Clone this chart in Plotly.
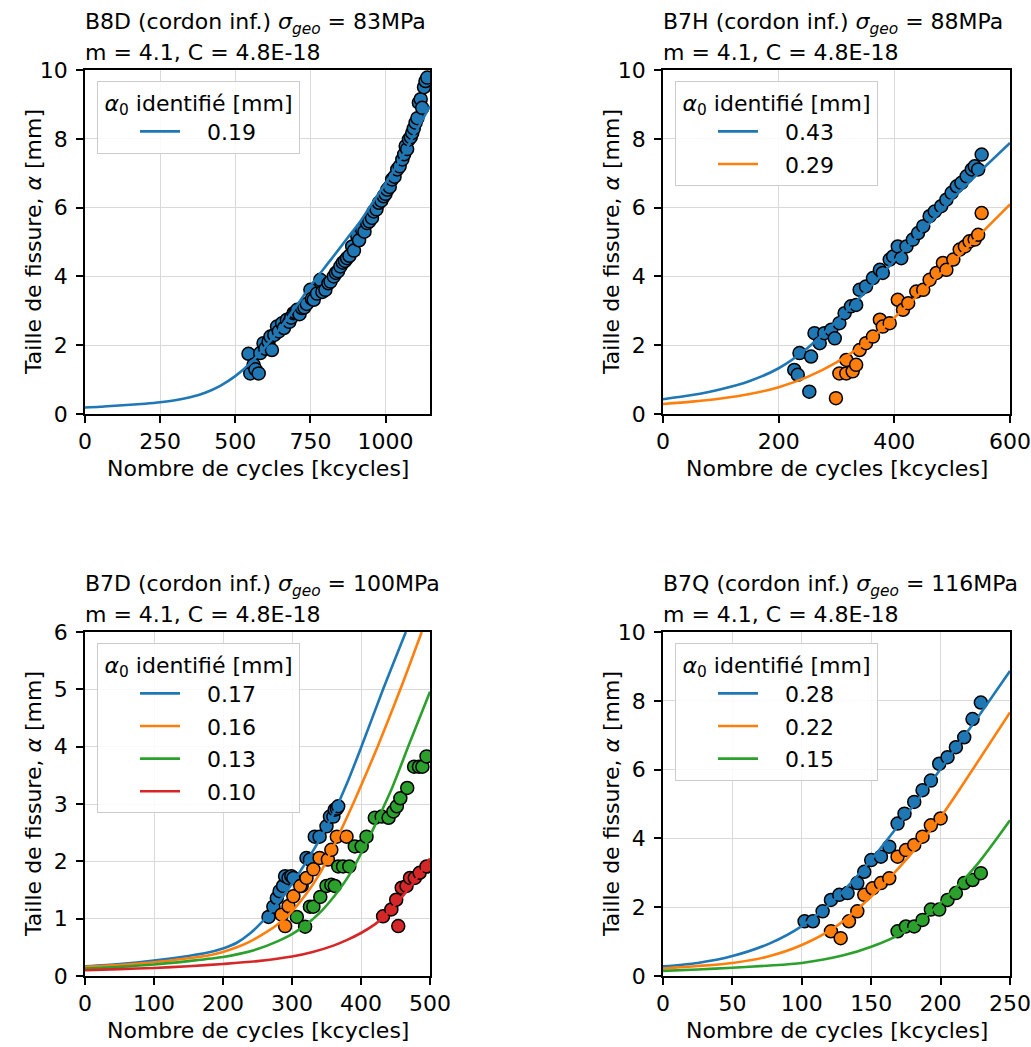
import plotly.graph_objects as go

W, H = 1031, 1047
BLUE, ORANGE, GREEN, RED = "#1f77b4", "#ff7f0e", "#2ca02c", "#d62728"
FONT = "DejaVu Sans"

# ---------------- Data ----------------
# Panel 1 : B8D, 83 MPa
p1_title = "B8D (cordon inf.) <i>σ<sub>geo</sub></i> = 83MPa"
p1_a0 = ["0.19"]
p1_curve_N = [0, 50, 100, 150, 200, 250, 300, 350, 400, 450, 500, 550, 600, 650, 700, 761, 815, 872, 920, 961, 1000, 1050, 1094, 1148]
p1_curve_a = [0.19, 0.21, 0.24, 0.27, 0.30, 0.34, 0.40, 0.49, 0.62, 0.82, 1.10, 1.48, 1.95, 2.50, 3.10, 3.85, 4.45, 5.10, 5.65, 6.20, 6.70, 7.40, 8.10, 8.95]
p1_N = [544, 550, 561, 567, 578, 583, 594, 600, 611, 617, 622, 630, 639, 645, 656, 662, 672, 680, 686, 694,
        700, 706, 714, 722, 730, 738, 750, 755, 761, 772, 783, 790, 800, 810, 817, 828, 835, 842, 850, 858,
        865, 872, 880, 889, 895, 906, 912, 922, 930, 939, 946, 955, 961, 970, 978, 986, 994, 1000, 1006, 1014,
        1022, 1030, 1039, 1047, 1056, 1062, 1067, 1072, 1078, 1084, 1089, 1094, 1100, 1106, 1111, 1117, 1122, 1128, 1133, 1139]
p1_a = [1.75, 1.18, 1.43, 1.30, 1.18, 1.77, 2.06, 1.90, 2.10, 2.25, 1.86, 2.30, 2.54, 2.40, 2.64, 2.50, 2.74, 2.68, 2.80, 2.93,
        2.95, 3.03, 2.90, 3.08, 3.10, 3.20, 3.61, 3.35, 3.32, 3.50, 3.90, 3.55, 3.61, 3.80, 3.85, 4.00, 4.10, 4.15, 4.29, 4.40,
        4.45, 4.53, 4.60, 4.87, 4.75, 5.17, 5.05, 5.36, 5.30, 5.55, 5.60, 5.70, 5.89, 5.95, 6.14, 6.20, 6.33, 6.40, 6.52, 6.60,
        6.82, 6.90, 7.11, 7.20, 7.40, 7.55, 7.79, 7.70, 7.98, 8.05, 8.17, 8.30, 8.47, 8.60, 9.05, 9.15, 8.90, 9.50, 9.68, 9.78]

# Panel 2 : B7H, 88 MPa
p2_title = "B7H (cordon inf.) <i>σ<sub>geo</sub></i> = 88MPa"
p2_a0 = ["0.43", "0.29"]
p2_curve_N = [0, 50, 100, 150, 200, 250, 300, 350, 400, 450, 500, 550, 600]
p2_curve_a_1 = [0.43, 0.55, 0.72, 0.96, 1.33, 1.92, 2.70, 3.55, 4.45, 5.35, 6.25, 7.08, 7.88]
p2_curve_a_2 = [0.29, 0.36, 0.45, 0.58, 0.78, 1.08, 1.50, 2.07, 2.80, 3.60, 4.40, 5.25, 6.09]
p2_N_1 = [227, 233, 236, 253, 256, 262, 271, 279, 291, 297, 305, 314, 325, 334, 340, 351, 363, 375, 380, 392,
          398, 406, 412, 421, 432, 441, 450, 461, 470, 481, 490, 499, 508, 516, 525, 534, 539, 545, 551]
p2_a_1 = [1.28, 1.14, 1.77, 0.65, 1.67, 2.35, 2.06, 2.35, 2.45, 2.20, 2.64, 2.93, 3.13, 3.17, 3.61, 3.71, 3.95, 4.19, 4.10, 4.49,
          4.58, 4.87, 4.53, 4.87, 5.07, 5.26, 5.46, 5.75, 5.89, 6.04, 6.23, 6.43, 6.62, 6.72, 6.91, 7.11, 7.20, 7.11, 7.54]
p2_N_2 = [299, 305, 317, 317, 328, 334, 340, 351, 363, 375, 380, 392, 406, 415, 424, 438, 450, 461, 473, 484,
          490, 502, 513, 522, 530, 539, 545, 551]
p2_a_2 = [0.46, 1.18, 1.57, 1.18, 1.24, 1.43, 1.86, 2.06, 2.25, 2.74, 2.54, 2.64, 3.32, 3.03, 3.22, 3.56, 3.61, 3.90, 4.10, 4.39,
          4.19, 4.49, 4.78, 4.87, 5.02, 5.07, 5.21, 5.84]

# Panel 3 : B7D, 100 MPa
p3_title = "B7D (cordon inf.) <i>σ<sub>geo</sub></i> = 100MPa"
p3_a0 = ["0.17", "0.16", "0.13", "0.10"]
p3_curve_N_1 = [0, 50, 100, 150, 175, 200, 220, 239, 258, 280, 300, 320, 340, 360, 380, 400, 432, 465]
p3_curve_a_1 = [0.17, 0.21, 0.27, 0.35, 0.40, 0.48, 0.58, 0.74, 0.96, 1.28, 1.61, 1.98, 2.38, 2.83, 3.37, 3.98, 5.00, 6.00]
p3_curve_N_2 = [0, 50, 100, 150, 175, 200, 220, 239, 258, 278, 297, 320, 340, 357, 374, 391, 424, 457, 488]
p3_curve_a_2 = [0.16, 0.19, 0.24, 0.31, 0.35, 0.42, 0.50, 0.60, 0.73, 0.89, 1.09, 1.42, 1.78, 2.18, 2.62, 3.07, 4.00, 5.00, 6.00]
p3_curve_N_3 = [0, 50, 100, 150, 200, 225, 250, 278, 300, 321, 340, 355, 370, 384, 405, 425, 445, 470, 500]
p3_curve_a_3 = [0.13, 0.16, 0.20, 0.26, 0.33, 0.39, 0.47, 0.60, 0.73, 0.90, 1.10, 1.30, 1.53, 1.78, 2.25, 2.75, 3.28, 4.05, 4.96]
p3_curve_N_4 = [0, 50, 100, 150, 200, 250, 300, 330, 360, 380, 400, 420, 432, 450, 471, 485, 500]
p3_curve_a_4 = [0.10, 0.12, 0.14, 0.17, 0.21, 0.26, 0.34, 0.42, 0.53, 0.63, 0.75, 0.90, 1.02, 1.25, 1.55, 1.78, 2.05]
p3_N_1 = [266, 273, 278, 282, 287, 290, 295, 299, 302, 314, 321, 326, 333, 340, 350, 355, 360, 362, 365, 367]
p3_a_1 = [1.03, 1.21, 1.36, 1.48, 1.57, 1.74, 1.71, 1.74, 1.71, 1.57, 2.06, 2.03, 2.43, 2.43, 2.61, 2.78, 2.78, 2.90, 2.92, 2.96]
p3_N_2 = [285, 290, 295, 302, 312, 321, 331, 340, 352, 357, 365, 379]
p3_a_2 = [1.07, 0.87, 1.22, 1.39, 1.57, 1.71, 1.86, 2.06, 2.03, 2.20, 2.43, 2.43]
p3_N_3 = [307, 319, 326, 331, 341, 350, 357, 362, 367, 374, 383, 391, 401, 408, 420, 430, 440, 447, 452, 457,
          467, 477, 484, 489, 495]
p3_a_3 = [1.03, 0.86, 1.21, 1.21, 1.38, 1.57, 1.59, 1.57, 1.91, 1.91, 1.91, 2.26, 2.26, 2.43, 2.76, 2.78, 2.76, 2.87, 2.96, 3.10,
          3.28, 3.65, 3.65, 3.65, 3.83]
p3_N_4 = [432, 444, 451, 454, 459, 466, 471, 478, 485, 495]
p3_a_4 = [1.04, 1.16, 1.33, 0.87, 1.54, 1.57, 1.71, 1.71, 1.80, 1.91]

# Panel 4 : B7Q, 116 MPa
p4_title = "B7Q (cordon inf.) <i>σ<sub>geo</sub></i> = 116MPa"
p4_a0 = ["0.28", "0.22", "0.15"]
p4_curve_N_1 = [0, 25, 50, 77, 100, 125, 150, 176, 200, 225, 250]
p4_curve_a_1 = [0.28, 0.38, 0.58, 0.95, 1.45, 2.28, 3.38, 4.72, 6.02, 7.42, 8.87]
p4_curve_N_2 = [0, 25, 50, 75, 100, 125, 150, 176, 200, 225, 250]
p4_curve_a_2 = [0.22, 0.29, 0.38, 0.56, 0.90, 1.45, 2.31, 3.42, 4.62, 6.12, 7.66]
p4_curve_N_3 = [0, 25, 50, 75, 100, 130, 150, 171, 185, 200, 225, 250]
p4_curve_a_3 = [0.15, 0.19, 0.24, 0.30, 0.38, 0.60, 0.85, 1.22, 1.60, 2.12, 3.18, 4.53]
p4_N_1 = [102, 108, 115, 121, 127, 133, 140, 145, 150, 157, 163, 169, 174, 181, 187, 193, 199, 205, 211, 217, 223, 229]
p4_a_1 = [1.59, 1.59, 1.88, 2.21, 2.36, 2.41, 2.70, 3.03, 3.37, 3.47, 3.76, 4.43, 4.72, 5.06, 5.40, 5.68, 6.17, 6.36, 6.65, 6.94, 7.47, 7.95]
p4_N_2 = [121, 128, 134, 140, 145, 151, 157, 163, 169, 175, 181, 187, 193, 200]
p4_a_2 = [1.30, 1.10, 1.59, 1.88, 2.36, 2.55, 2.70, 2.84, 3.47, 3.66, 3.81, 4.05, 4.38, 4.58]
p4_N_3 = [169, 175, 181, 187, 193, 199, 205, 211, 217, 223, 229]
p4_a_3 = [1.30, 1.44, 1.44, 1.63, 1.93, 1.93, 2.21, 2.41, 2.70, 2.79, 2.99]

subtitle = "m = 4.1, C = 4.8E-18"
legend_title = "\u2009<i>α</i><sub>0</sub> identifié [mm]\u2009"
xlabel = "Nombre de cycles [kcycles]"
ylabel = "Taille de fissure, <i>α</i> [mm]"

# ---------------- Layout geometry (pixels) ----------------
cols = [(85, 430), (663, 1010)]
rows = [(70, 414), (632, 976)]

panels = [
    dict(title=p1_title, a0=p1_a0, xr=[0, 1148], yr=[0, 10], xt=[0, 250, 500, 750, 1000], yt=[0, 2, 4, 6, 8, 10],
         curves=[(p1_curve_N, p1_curve_a)], pts=[(p1_N, p1_a)], colors=[BLUE]),
    dict(title=p2_title, a0=p2_a0, xr=[0, 600], yr=[0, 10], xt=[0, 200, 400, 600], yt=[0, 2, 4, 6, 8, 10],
         curves=[(p2_curve_N, p2_curve_a_1), (p2_curve_N, p2_curve_a_2)],
         pts=[(p2_N_1, p2_a_1), (p2_N_2, p2_a_2)], colors=[BLUE, ORANGE]),
    dict(title=p3_title, a0=p3_a0, xr=[0, 500], yr=[0, 6], xt=[0, 100, 200, 300, 400, 500], yt=[0, 1, 2, 3, 4, 5, 6],
         curves=[(p3_curve_N_1, p3_curve_a_1), (p3_curve_N_2, p3_curve_a_2), (p3_curve_N_3, p3_curve_a_3), (p3_curve_N_4, p3_curve_a_4)],
         pts=[(p3_N_1, p3_a_1), (p3_N_2, p3_a_2), (p3_N_3, p3_a_3), (p3_N_4, p3_a_4)], colors=[BLUE, ORANGE, GREEN, RED]),
    dict(title=p4_title, a0=p4_a0, xr=[0, 250], yr=[0, 10], xt=[0, 50, 100, 150, 200, 250], yt=[0, 2, 4, 6, 8, 10],
         curves=[(p4_curve_N_1, p4_curve_a_1), (p4_curve_N_2, p4_curve_a_2), (p4_curve_N_3, p4_curve_a_3)],
         pts=[(p4_N_1, p4_a_1), (p4_N_2, p4_a_2), (p4_N_3, p4_a_3)], colors=[BLUE, ORANGE, GREEN]),
]

fig = go.Figure()
annotations = []
layout = dict(template="none", width=W, height=H, autosize=False,
              margin=dict(l=0, r=0, t=0, b=0, pad=0, autoexpand=False),
              paper_bgcolor="white", plot_bgcolor="white",
              font=dict(family=FONT, size=22, color="black"), showlegend=True)

for i, p in enumerate(panels):
    r, c = divmod(i, 2)
    x0, x1 = cols[c]
    y0, y1 = rows[r]
    k = "" if i == 0 else str(i + 1)
    xa, ya = "x" + k, "y" + k
    leg = "legend" + k
    common = dict(showline=True, linecolor="black", linewidth=1.5, mirror=True,
                  ticks="outside", ticklen=7, tickwidth=1.5, tickcolor="black",
                  showgrid=True, gridcolor="#d9d9d9", gridwidth=1.2, zeroline=False,
                  automargin=False,
                  tickfont=dict(family=FONT, size=22, color="black"), fixedrange=True)
    layout["xaxis" + k] = dict(domain=[x0 / W, x1 / W], range=p["xr"], tickvals=p["xt"],
                               anchor=ya, **common)
    layout["yaxis" + k] = dict(domain=[1 - y1 / H, 1 - y0 / H], range=p["yr"], tickvals=p["yt"],
                               anchor=xa, ticklabelstandoff=4, **common)
    # scatter points
    for (N, a), col in zip(p["pts"], p["colors"]):
        fig.add_trace(go.Scatter(x=N, y=a, mode="markers", xaxis=xa, yaxis=ya, showlegend=False,
                                 marker=dict(size=13, color=col, line=dict(color="black", width=1.5)),
                                 cliponaxis=True, hoverinfo="skip"))
    # curves
    for j, ((N, a), col) in enumerate(zip(p["curves"], p["colors"])):
        fig.add_trace(go.Scatter(x=N, y=a, mode="lines", xaxis=xa, yaxis=ya, name="\u2002\u2002" + p["a0"][j],
                                 legend=leg, legendgroup=f"g{i}{j}",
                                 line=dict(color=col, width=2.6, shape="spline", smoothing=0.8)))
    layout[leg] = dict(x=(x0 + 12) / W, y=1 - (y0 + 11) / H, xanchor="left", yanchor="top",
                       bgcolor="rgba(255,255,255,0.85)", bordercolor="#cccccc", borderwidth=1,
                       font=dict(family=FONT, size=22, color="black"),
                       title=dict(text=legend_title, side="top center", font=dict(family=FONT, size=22)),
                       tracegroupgap=1, itemwidth=40, indentation=37)
    # titles
    ty = rows[r][0]
    annotations.append(dict(text=p["title"], x=(x0 - 2) / W, y=1 - (ty - 47) / H, xref="paper", yref="paper",
                            xanchor="left", yanchor="middle", showarrow=False, font=dict(size=22)))
    annotations.append(dict(text=subtitle, x=(x0 - 2) / W, y=1 - (ty - 18) / H, xref="paper", yref="paper",
                            xanchor="left", yanchor="middle", showarrow=False, font=dict(size=22)))
    # axis titles
    annotations.append(dict(text=xlabel, x=(x0 + x1) / 2 / W, y=1 - (y1 + 54) / H, xref="paper", yref="paper",
                            xanchor="center", yanchor="middle", showarrow=False, font=dict(size=22)))
    annotations.append(dict(text=ylabel, x=(x0 - 52) / W, y=1 - (y0 + y1) / 2 / H, xref="paper", yref="paper",
                            xanchor="center", yanchor="middle", showarrow=False, textangle=-90, font=dict(size=22)))

layout["annotations"] = annotations
fig.update_layout(**layout)
fig.write_html("out.html", config={"displayModeBar": False},
               post_script="document.body.style.margin='0';document.body.style.overflow='hidden';")
